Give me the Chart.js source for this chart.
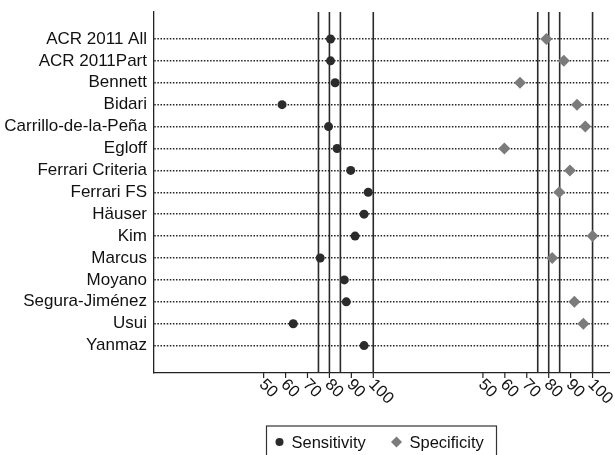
<!DOCTYPE html>
<html>
<head>
<meta charset="utf-8">
<script src="https://cdn.jsdelivr.net/npm/chart.js@4"></script>
<style>
  html, body { margin: 0; padding: 0; background: #fff; }
</style>
</head>
<body>
<canvas id="chart" width="615" height="455"></canvas>
<script>
// studies, top to bottom
const studies = [
  "ACR 2011 All", "ACR 2011Part", "Bennett", "Bidari", "Carrillo-de-la-Peña",
  "Egloff", "Ferrari Criteria", "Ferrari FS", "Häuser", "Kim",
  "Marcus", "Moyano", "Segura-Jiménez", "Usui", "Yanmaz"
];
const sensitivity = [80.5, 80.5, 82.6, 58.4, 79.6, 83.5, 89.7, 97.7, 95.8, 91.7, 75.8, 86.8, 87.7, 63.5, 95.8];
const specificity = [78.9, 86.9, 66.9, 92.9, 96.7, 59.8, 89.7, 84.8, null, 100, 81.6, null, 91.7, 95.8, null];
const refLines = [75, 80, 85, 100];
const xTicks = [50, 60, 70, 80, 90, 100];
const tickLabels = ["50", "60", "70", "80", "90", "100"];
const panelOffset = 100; // specificity panel is drawn right of the sensitivity panel

const FONT = '"Liberation Sans", Arial, Helvetica, sans-serif';
const yMin = -0.23, yMax = 16.25;

const refDatasets = [];
[0, panelOffset].forEach(off => {
  refLines.forEach(v => {
    refDatasets.push({
      label: "ref",
      data: [{ x: v + off, y: yMin }, { x: v + off, y: yMax }],
      borderColor: "#2a2a2a",
      borderWidth: 1.6,
      pointRadius: 0,
      showLine: true,
      order: 5
    });
  });
});

const panelAxes = {
  id: "panelAxes",
  afterDraw(chart) {
    const { ctx, chartArea } = chart;
    const x = chart.scales.x;
    ctx.save();
    // x ticks, rotated labels for both panels
    ctx.strokeStyle = "#222";
    ctx.lineWidth = 1.2;
    ctx.fillStyle = "#111";
    ctx.font = "16.5px " + FONT;
    ctx.textAlign = "left";
    ctx.textBaseline = "middle";
    [0, panelOffset].forEach(off => {
      xTicks.forEach((t, i) => {
        const px = x.getPixelForValue(t + off);
        ctx.beginPath();
        ctx.moveTo(px, chartArea.bottom);
        ctx.lineTo(px, chartArea.bottom + 5);
        ctx.stroke();
        ctx.save();
        ctx.translate(px - 2, chartArea.bottom + 9);
        ctx.rotate(Math.PI / 4);
        ctx.fillText(tickLabels[i], 0, 0);
        ctx.restore();
      });
    });

    // legend box
    const ds = chart.data.datasets.slice(0, 2);
    const boxW = 230, boxTop = 426;
    const cx = (chartArea.left + chartArea.right) / 2;
    const left = cx - boxW / 2;
    ctx.strokeStyle = "#333";
    ctx.lineWidth = 1.2;
    ctx.strokeRect(left, boxTop, boxW, 40);
    const cy = boxTop + 16;
    const items = [{ mx: left + 13, tx: left + 25 }, { mx: left + 130, tx: left + 143 }];
    ds.forEach((d, i) => {
      ctx.fillStyle = d.backgroundColor;
      ctx.beginPath();
      const r = i === 0 ? 4 : 5.5;
      if (d.pointStyle === "rectRot") {
        ctx.moveTo(items[i].mx, cy - r);
        ctx.lineTo(items[i].mx + r, cy);
        ctx.lineTo(items[i].mx, cy + r);
        ctx.lineTo(items[i].mx - r, cy);
        ctx.closePath();
      } else {
        ctx.arc(items[i].mx, cy, r, 0, Math.PI * 2);
      }
      ctx.fill();
      ctx.fillStyle = "#111";
      ctx.font = "16.5px " + FONT;
      ctx.fillText(d.label, items[i].tx, cy + 1);
    });
    ctx.restore();
  }
};

new Chart(document.getElementById("chart"), {
  type: "line",
  data: {
    datasets: [
      {
        label: "Sensitivity",
        data: sensitivity.map((v, i) => ({ x: v, y: i + 1 })),
        showLine: false,
        pointStyle: "circle",
        pointRadius: 4.5,
        backgroundColor: "#2b2b2b",
        borderColor: "#2b2b2b",
        borderWidth: 0,
        order: 1
      },
      {
        label: "Specificity",
        data: specificity.map((v, i) => v === null ? null : ({ x: v + panelOffset, y: i + 1 })).filter(p => p),
        showLine: false,
        pointStyle: "rectRot",
        pointRadius: 6,
        backgroundColor: "#7b7b7b",
        borderColor: "#7b7b7b",
        borderWidth: 0,
        order: 1
      },
      ...refDatasets
    ]
  },
  options: {
    responsive: false,
    animation: false,
    events: [],
    layout: { padding: { top: 12, right: 4, left: 0, bottom: 0 } },
    plugins: { legend: { display: false }, tooltip: { enabled: false } },
    scales: {
      x: {
        type: "linear",
        min: 0,
        max: 207.5,
        grid: { display: false },
        border: { display: true, color: "#222", width: 1.3 },
        ticks: { display: false },
        afterFit(scale) { scale.height = 82; }
      },
      y: {
        type: "linear",
        reverse: true,
        min: yMin,
        max: yMax,
        afterBuildTicks(scale) {
          scale.ticks = studies.map((s, i) => ({ value: i + 1 }));
        },
        afterFit(scale) {
          scale.width = 154;
          scale.paddingTop = 0;
          scale.paddingBottom = 0;
        },
        grid: { color: "#222", lineWidth: 1.5, drawTicks: false },
        border: { display: true, color: "#222", width: 1.3, dash: [1.5, 1.6] },
        ticks: {
          padding: 7,
          color: "#111",
          font: { family: FONT, size: 17 },
          callback: v => studies[v - 1]
        }
      }
    }
  },
  plugins: [panelAxes]
});
</script>
</body>
</html>
